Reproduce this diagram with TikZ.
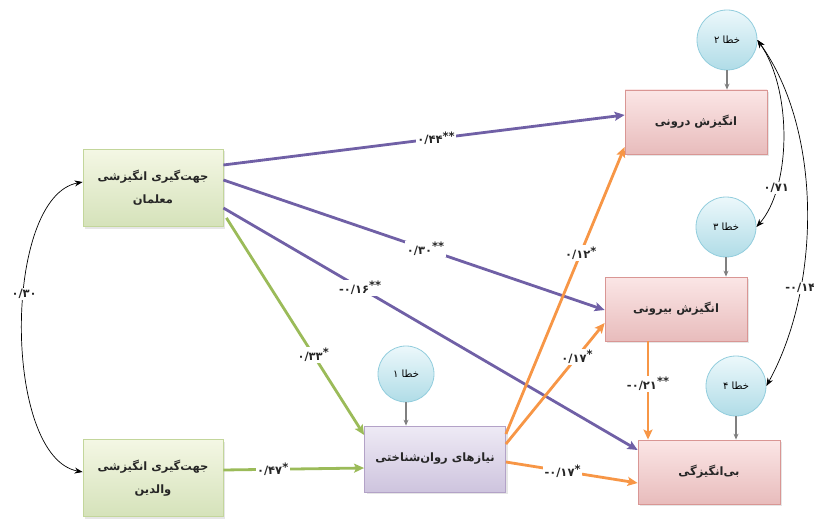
\documentclass[tikz,border=0pt]{standalone}
\usepackage{fontspec}
\newfontfamily\fa[Script=Arabic]{DejaVu Sans}
\newfontfamily\lat{DejaVu Sans}
\TeXXeTstate=1
\usetikzlibrary{arrows.meta,shadows}
\definecolor{purp}{RGB}{112,96,166}
\definecolor{grn}{RGB}{155,187,89}
\definecolor{org}{RGB}{247,150,70}
\definecolor{gtop}{RGB}{244,247,228}
\definecolor{gbot}{RGB}{213,226,186}
\definecolor{gborder}{RGB}{195,214,155}
\definecolor{vtop}{RGB}{238,234,245}
\definecolor{vbot}{RGB}{206,196,222}
\definecolor{vborder}{RGB}{179,162,199}
\definecolor{ptop}{RGB}{251,230,230}
\definecolor{pbot}{RGB}{232,188,188}
\definecolor{pborder}{RGB}{217,150,148}
\definecolor{ctop}{RGB}{236,248,251}
\definecolor{cbot}{RGB}{176,220,231}
\definecolor{cborder}{RGB}{146,205,221}
\newcommand\mystars[1]{\raisebox{3.5pt}{\lat\bfseries #1}}
\newcommand\mymin{{\lat\bfseries -}}
\begin{document}
\begin{tikzpicture}[x=1pt,y=-1pt,
  box/.style={rectangle, line width=0.8pt, align=center, inner sep=2pt,
    font=\fa\bfseries\fontsize{11.5}{23}\selectfont, text=black!85,
    drop shadow={opacity=0.2, shadow xshift=2pt, shadow yshift=-2pt}},
  gbox/.style={box, draw=gborder, top color=gtop, bottom color=gbot, minimum width=140pt, minimum height=77pt},
  vbox/.style={box, draw=vborder, top color=vtop, bottom color=vbot, minimum width=141pt, minimum height=66pt},
  pbox/.style={box, draw=pborder, top color=ptop, bottom color=pbot, minimum width=142pt, minimum height=64pt},
  err/.style={circle, draw=cborder, line width=0.8pt, top color=ctop, bottom color=cbot, minimum size=60pt, inner sep=0pt,
    font=\fa\fontsize{10}{11}\selectfont},
  lab/.style={fill=white, inner sep=1.5pt, font=\fa\bfseries\fontsize{11.5}{12}\selectfont, text=black!85},
  colarr/.style={line width=2.8pt, -{Stealth[length=10pt,width=9pt,inset=2pt]}},
  parr/.style={colarr, draw=purp},
  garr/.style={colarr, draw=grn},
  oarr/.style={colarr, draw=org},
  earr/.style={draw=gray, line width=1.1pt, -{Stealth[length=6pt,width=5pt]}},
  carr/.style={black, line width=0.7pt, {Stealth[length=8pt,width=6pt]}-{Stealth[length=8pt,width=6pt]}}
]
\useasboundingbox (0,0) rectangle (814,524);

% boxes
\node[gbox] (T) at (153,188) {\beginR جهت‌گیری انگیزشی\endR\\\beginR معلمان\endR};
\node[gbox] (P) at (153,478) {\beginR جهت‌گیری انگیزشی\endR\\\beginR والدین\endR};
\node[vbox] (N) at (435,459) {\beginR نیازهای روان‌شناختی\endR};
\node[pbox] (I) at (696,122) {\beginR انگیزش درونی\endR};
\node[pbox] (E) at (676,309) {\beginR انگیزش بیرونی\endR};
\node[pbox] (A) at (709,472) {\beginR بی‌انگیزگی\endR};

% error circles
\node[err, minimum size=56pt] (e1) at (406,374) {\beginR خطا ۱\endR};
\node[err] (e2) at (727,40) {\beginR خطا ۲\endR};
\node[err] (e3) at (726,227) {\beginR خطا ۳\endR};
\node[err] (e4) at (736,386) {\beginR خطا ۴\endR};

\draw[earr] (e1.south) -- (e1.south |- N.north);
\draw[earr] (e2.south) -- (e2.south |- I.north);
\draw[earr] (e3.south) -- (e3.south |- E.north);
\draw[earr] (e4.south) -- (e4.south |- A.north);

% teacher paths
\draw[parr] ([yshift=23pt]T.east) -- node[lab,pos=0.53]{۰/۴۴\mystars{**}} ([yshift=7pt]I.west);
\draw[parr] ([yshift=8pt]T.east) -- node[lab,pos=0.53]{۰/۳۰\mystars{**}} ([yshift=-1pt]E.west);
\draw[parr] ([yshift=-20pt]T.east) -- node[lab,pos=0.33]{\mymin۰/۱۶\mystars{**}} ([yshift=22pt]A.west);
\draw[garr] ([xshift=3pt,yshift=9pt]T.south east) -- node[lab,pos=0.63]{۰/۳۳\mystars{*}} ([yshift=24pt]N.west);
\draw[garr] ([yshift=8pt]P.east) -- node[lab,pos=0.35]{۰/۴۷\mystars{*}} ([yshift=-9pt]N.west);

% needs paths
\draw[oarr] ([yshift=25pt]N.east) -- node[lab,pos=0.63]{۰/۱۲\mystars{*}} ([yshift=-25pt]I.west);
\draw[oarr] ([yshift=15pt]N.east) -- node[lab,pos=0.72]{۰/۱۷\mystars{*}} ([yshift=-14pt]E.west);
\draw[oarr] ([yshift=-3pt]N.east) -- node[lab,pos=0.43]{\mymin۰/۱۷\mystars{*}} ([yshift=-11pt]A.west);
\draw[oarr] ([xshift=-28pt]E.south) -- node[lab,pos=0.43]{\mymin۰/۲۱\mystars{**}} ([xshift=-28pt]E.south |- A.north);

% covariances
\draw[carr] ([yshift=6pt]T.west) .. controls +(-80,15) and +(-80,-15) .. node[lab,pos=0.42]{۰/۳۰} ([yshift=6pt]P.west);
\draw[carr] (e2.east) .. controls +(35,50) and +(35,-40) .. node[lab,pos=0.75]{۰/۷۱} (e3.east);
\draw[carr] (e2.east) .. controls +(65,90) and +(55,-100) .. node[lab,pos=0.71]{\mymin۰/۱۴} (e4.east);
\end{tikzpicture}
\end{document}
